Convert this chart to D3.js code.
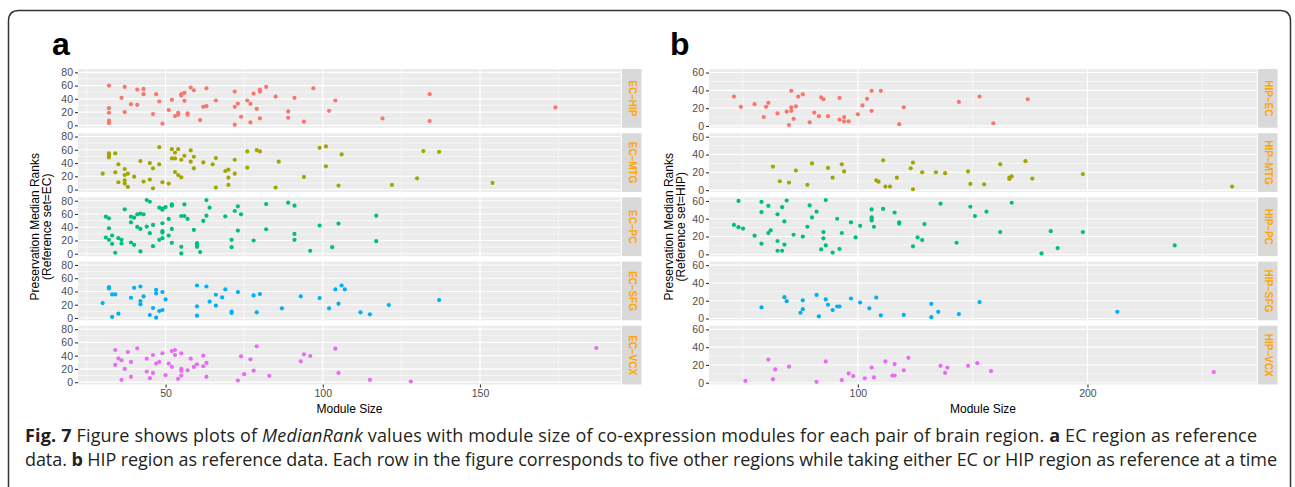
<!DOCTYPE html>
<html lang="en">
<head>
<meta charset="UTF-8">
<title>Fig. 7 MedianRank values against module size</title>
<script src="https://d3js.org/d3.v7.min.js"></script>
<style>
    body { margin: 0; background: #fff; }
    text { font-family: "Liberation Sans", Arial, Helvetica, sans-serif; }
    .caption { font-family: "Open Sans", sans-serif; font-size: 18px; fill: #231f20; }
    .tick-label { font-size: 10.5px; fill: #4d4d4d; }
    .strip-label { font-size: 10px; font-weight: bold; fill: #ffa500; }
    .axis-title { font-size: 12px; fill: #000; }
</style>
</head>
<body>

<svg id="chart" width="1295" height="487"></svg>

<script>
// ---- panel a: EC as reference, [module size, median rank] ----
const ecHip = [[32,60],[32,26],[32,19],[32,7],[32,3.5],[36,41.5],[37,58],[37,20],[39,32],[41,31],[41,54],[43,55],[43,47],[46,17],[47,47],[48,36],[49,2.5],[51,23],[52,38.5],[53,14],[54,19],[54,16],[55,45],[55,47],[56,49],[56,37],[57,18],[57,16],[58,57],[59,53],[61,8],[62,28],[63,29],[63,56],[66,37.5],[72,51],[72,28],[72,1],[73,33],[74,13],[76,37.5],[77,32.5],[77,4.5],[78,48],[79,25],[80,51],[80,54],[80,10.5],[82,58],[85,43.5],[89,21],[89,11.5],[91,41.5],[94,5.5],[97,56],[102,22],[104,37.5],[119,10.5],[134,47],[134,6.5],[174,27]];
const ecMtg = [[30,24],[32,54.5],[32,51.5],[32,48.5],[34,54.5],[34,26],[35,38],[35,11],[37,31],[37,22],[37,14],[37,9],[38,24],[38,4],[40,19.5],[42,43],[43,12],[45,40],[45,15],[46,32],[46,2],[48,64],[48,38],[49,11],[51,9],[52,61],[52,47],[53,55.5],[53,47],[54,61],[53,26.5],[54,22],[55,18.5],[55,45],[56,51],[58,59],[58,42],[59,49.5],[59,32],[62,41],[65,38],[66,47.5],[66,3],[69,28],[70,30],[70,18],[70,7],[72,45],[72,24],[76,57.5],[76,33],[79,59.5],[80,57.5],[85,3],[86,42],[94,19],[99,63],[101,65],[101,35],[105,6],[106,53],[122,7],[130,17],[132,58],[137,57],[154,10]];
const ecPc = [[31,56],[32,53.5],[32,38.5],[31,24.5],[32,21],[33,27.5],[33,15],[34,1.5],[35,23.5],[36,21],[36,15.5],[37,67],[39,47.5],[39,56],[40,54.5],[39,17],[40,13.5],[41,59.5],[41,40.5],[42,37.5],[42,3.5],[43,59.5],[42,60.5],[44,81],[45,78.5],[44,41],[45,31],[46,43.5],[46,11.5],[48,69.5],[49,68],[49,66.5],[50,70.5],[48,21],[49,23.5],[49,34],[49,32],[49,46],[51,27.5],[51,52.5],[52,37.5],[52,72.5],[52,74.5],[52,16.5],[55,57],[56,57],[55,10.5],[55,0.5],[56,74.5],[57,52.5],[59,36],[60,16],[60,13.5],[60,10.5],[61,2.5],[62,49.5],[63,81],[63,57.5],[64,69.5],[69,56.5],[71,21],[71,10],[72,64.5],[73,71.5],[73,35],[74,59.5],[78,20],[82,75],[82,37],[89,77],[91,72.5],[91,30],[91,21],[96,4.5],[99,42.5],[103,10],[105,45.5],[117,57.5],[117,19]];
const ecSfg = [[30,22.5],[32,46.5],[32,44.5],[33,35.5],[34,35.5],[33,1.5],[35,6.5],[39,30.5],[40,45.5],[42,47.5],[42,25.5],[42,20.5],[43,32.5],[45,4.5],[46,15],[47,42.5],[47,37],[47,0.5],[48,10.5],[49,12],[49,39],[50,28],[60,49],[60,17.5],[60,3.5],[63,47.5],[64,24.5],[66,35],[66,18.5],[68,31],[69,43],[71,9.5],[71,7.5],[73,39],[78,34],[79,8.5],[80,36],[87,14.5],[93,32.5],[99,30],[102,14.5],[104,43],[105,21.5],[106,49],[107,43],[112,8.5],[115,5.5],[121,19.5],[137,27]];
const ecVcx = [[34,48.5],[34,26],[35,36],[36,33],[36,3.5],[37,20],[38,45.5],[39,30.5],[39,8],[41,51],[44,35.5],[44,16],[45,6],[46,41],[46,14],[47,28],[48,30.5],[49,43.5],[50,10.5],[51,28],[52,23],[52,47],[53,48.5],[53,41],[54,5],[55,43.5],[55,20],[55,17],[55,10],[57,18],[58,35.5],[59,23],[60,27],[62,40],[62,24],[63,29],[63,8],[73,2.5],[74,39],[75,12],[77,34.5],[78,17.5],[79,54],[83,9.5],[93,31.5],[94,42],[96,39.5],[104,50.5],[105,14],[115,3.5],[128,1],[187,51.5]];

// ---- panel b: HIP as reference ----
const hipEc = [[46,33],[49,21.5],[55,24.5],[59,10],[60,21.5],[61,26],[65,14],[69,16],[70,1],[71,39.5],[71,21],[71,17],[72,8],[73,22],[74,33],[76,35.5],[79,4],[81,15],[83,11],[84,32],[85,30],[87,11],[92,31.5],[92,7],[94,10],[94,5],[96,5],[100,13],[102,23],[104,30.5],[106,39.5],[106,17],[110,39.5],[118,2],[120,21],[144,27],[153,33],[159,3],[174,30]];
const hipMtg = [[63,26.5],[66,10],[70,8.5],[73,22],[78,6],[80,30],[87,25],[89,14],[93,29],[94,21],[108,11],[109,9.5],[111,33.5],[112,4],[114,4],[117,14],[123,24.5],[124,31],[124,1],[128,20],[134,20],[138,19],[148,21],[149,7],[155,6.5],[162,29],[166,12.5],[166,14],[167,15.5],[173,32.5],[176,13],[198,18],[263,4]];
const hipPc = [[46,33],[48,60],[48,30.5],[50,29],[55,21],[58,59],[58,47.5],[58,12],[61,54.5],[61,24],[62,27],[65,45],[65,15],[65,4],[67,53],[68,37],[68,11],[67,4],[69,60.5],[72,22],[76,20],[78,31],[79,55],[80,41.5],[82,48],[84,5.5],[85,25],[85,18],[86,10],[86,61],[89,2],[91,40],[92,6],[93,24],[97,36],[99,19],[101,32],[106,50.5],[106,41.5],[106,40],[106,38],[107,31],[111,51],[116,47],[118,36],[118,34.5],[124,9],[126,19],[128,16],[129,34],[136,57],[143,13],[149,53.5],[151,43],[156,48],[162,25],[167,58],[180,1],[184,26],[187,7],[198,25],[238,10]];
const hipSfg = [[58,12.5],[68,24],[69,19.5],[75,6.5],[76,20.5],[76,10.5],[82,26.5],[83,2.5],[86,21.5],[87,15.5],[89,9.5],[91,13.5],[92,13.5],[97,22.5],[101,18],[105,11.5],[108,23.5],[110,3.5],[120,4],[132,16.5],[132,1.5],[135,7.5],[144,5],[153,18.5],[213,7.5]];
const hipVcx = [[51,2],[61,26],[63,4],[64,15],[70,18],[82,1],[86,24],[93,3],[96,10.5],[98,7.5],[103,5],[106,17],[107,6],[112,24],[115,8],[116,21],[116,8],[120,14],[122,28],[136,19],[138,11],[139,17],[148,19],[152,22],[158,13],[255,12]];

const pairsA = ["EC\u2013HIP", "EC\u2013MTG", "EC\u2013PC", "EC\u2013SFG", "EC\u2013VCX"];
const pairsB = ["HIP\u2013EC", "HIP\u2013MTG", "HIP\u2013PC", "HIP\u2013SFG", "HIP\u2013VCX"];
const colours = ["#F8766D", "#A3A500", "#00BF7D", "#00B0F6", "#E76BF3"];

const xTicksA = [50, 100, 150];
const xMinorA = [25, 75, 125, 175];
const yTicksA = [0, 20, 40, 60, 80];
const yMinorA = [10, 30, 50, 70];
const xTicksB = [100, 200];
const xMinorB = [50, 150, 250];
const yTicksB = [0, 20, 40, 60];
const yMinorB = [10, 30, 50];

const svg = d3.select("#chart");

// outer frame, rounded at the top
svg.append("path")
    .attr("d", "M8.5,490 V21 Q8.5,10.5 19,10.5 H1280 Q1290.5,10.5 1290.5,21 V490")
    .attr("fill", "none")
    .attr("stroke", "#333")
    .attr("stroke-width", 1.5);

// ggplot style: 5% expansion on both sides
function expand(ext) {
    const pad = (ext[1] - ext[0]) * 0.05;
    return [ext[0] - pad, ext[1] + pad];
}

const facetTop = 69, facetH = 58.7, facetStep = 64.2;

function drawPanel(p) {
    const all = p.sets.flat();
    const x = d3.scaleLinear().domain(expand(d3.extent(all, d => d[0]))).range([p.left, p.right]);
    const yDom = expand(d3.extent(all, d => d[1]));

    svg.append("text")
        .attr("x", p.letterX).attr("y", 55)
        .attr("font-size", "32px").attr("font-weight", "bold")
        .text(p.letter);

    p.sets.forEach(function(set, i) {
        const top = facetTop + i * facetStep;
        const y = d3.scaleLinear().domain(yDom).range([top + facetH, top]);
        const g = svg.append("g");

        g.append("rect")
            .attr("x", p.left).attr("y", top)
            .attr("width", p.right - p.left).attr("height", facetH)
            .attr("fill", "#ebebeb");

        // minor grid
        p.yMinor.forEach(v => {
            g.append("line").attr("x1", p.left).attr("x2", p.right)
                .attr("y1", y(v)).attr("y2", y(v))
                .attr("stroke", "#fff").attr("stroke-width", 0.55);
        });
        p.xMinor.forEach(v => {
            g.append("line").attr("x1", x(v)).attr("x2", x(v))
                .attr("y1", top).attr("y2", top + facetH)
                .attr("stroke", "#fff").attr("stroke-width", 0.55);
        });
        // major grid
        p.yTicks.forEach(v => {
            g.append("line").attr("x1", p.left).attr("x2", p.right)
                .attr("y1", y(v)).attr("y2", y(v))
                .attr("stroke", "#fff").attr("stroke-width", 1.1);
        });
        p.xTicks.forEach(v => {
            g.append("line").attr("x1", x(v)).attr("x2", x(v))
                .attr("y1", top).attr("y2", top + facetH)
                .attr("stroke", "#fff").attr("stroke-width", 1.1);
        });

        // y axis
        const yAxis = g.append("g")
            .attr("transform", `translate(${p.left},0)`)
            .call(d3.axisLeft(y).tickValues(p.yTicks).tickSize(3).tickPadding(2));
        yAxis.select(".domain").remove();
        yAxis.selectAll("line").attr("stroke", "#333").attr("stroke-width", 1.1);
        yAxis.selectAll("text").attr("class", "tick-label").attr("font-family", null).attr("font-size", null).attr("fill", null);

        // points
        g.selectAll("circle")
            .data(set)
            .enter()
            .append("circle")
            .attr("cx", d => x(d[0]))
            .attr("cy", d => y(d[1]))
            .attr("r", 2.1)
            .attr("fill", colours[i]);

        // strip
        g.append("rect")
            .attr("x", p.right + 1).attr("y", top)
            .attr("width", 19.5).attr("height", facetH)
            .attr("fill", "#d9d9d9");
        g.append("text")
            .attr("class", "strip-label")
            .attr("text-anchor", "middle")
            .attr("dominant-baseline", "central")
            .attr("transform", `translate(${p.right + 11},${top + facetH / 2}) rotate(90)`)
            .text(p.names[i]);

        if (i === p.sets.length - 1) {
            const xAxis = g.append("g")
                .attr("transform", `translate(0,${top + facetH})`)
                .call(d3.axisBottom(x).tickValues(p.xTicks).tickSize(3).tickPadding(2));
            xAxis.select(".domain").remove();
            xAxis.selectAll("line").attr("stroke", "#333").attr("stroke-width", 1.1);
            xAxis.selectAll("text").attr("class", "tick-label").attr("font-family", null).attr("font-size", null).attr("fill", null);
        }
    });

    svg.append("text")
        .attr("class", "axis-title")
        .attr("x", (p.left + p.right) / 2).attr("y", 413)
        .attr("text-anchor", "middle")
        .text("Module Size");

    const midY = facetTop + (4 * facetStep + facetH) / 2;
    const t = svg.append("text")
        .attr("class", "axis-title")
        .attr("text-anchor", "middle")
        .attr("transform", `translate(${p.titleX},${midY}) rotate(-90)`);
    t.append("tspan").attr("x", 0).attr("dy", 0).text("Preservation Median Ranks");
    t.append("tspan").attr("x", 0).attr("dy", 12).text(p.refText);
}

drawPanel({
    sets: [ecHip, ecMtg, ecPc, ecSfg, ecVcx], names: pairsA,
    left: 78, right: 621, letter: "a", letterX: 52, titleX: 39,
    xTicks: xTicksA, xMinor: xMinorA, yTicks: yTicksA, yMinor: yMinorA,
    refText: "(Reference set=EC)"
});
drawPanel({
    sets: [hipEc, hipMtg, hipPc, hipSfg, hipVcx], names: pairsB,
    left: 709, right: 1257, letter: "b", letterX: 670, titleX: 673,
    xTicks: xTicksB, xMinor: xMinorB, yTicks: yTicksB, yMinor: yMinorB,
    refText: "(Reference set=HIP)"
});

// caption, stretched to the line lengths of the original
const cap1 = svg.append("text").attr("class", "caption").attr("x", 25).attr("y", 442)
    .attr("textLength", 1232).attr("lengthAdjust", "spacing");
cap1.append("tspan").attr("font-weight", "bold").text("Fig. 7");
cap1.append("tspan").text(" Figure shows plots of ");
cap1.append("tspan").attr("font-style", "italic").text("MedianRank");
cap1.append("tspan").text(" values with module size of co-expression modules for each pair of brain region. ");
cap1.append("tspan").attr("font-weight", "bold").text("a");
cap1.append("tspan").text(" EC region as reference");

const cap2 = svg.append("text").attr("class", "caption").attr("x", 25).attr("y", 466)
    .attr("textLength", 1252).attr("lengthAdjust", "spacing");
cap2.append("tspan").text("data. ");
cap2.append("tspan").attr("font-weight", "bold").text("b");
cap2.append("tspan").text(" HIP region as reference data. Each row in the figure corresponds to five other regions while taking either EC or HIP region as reference at a time");
</script>

</body>
</html>
